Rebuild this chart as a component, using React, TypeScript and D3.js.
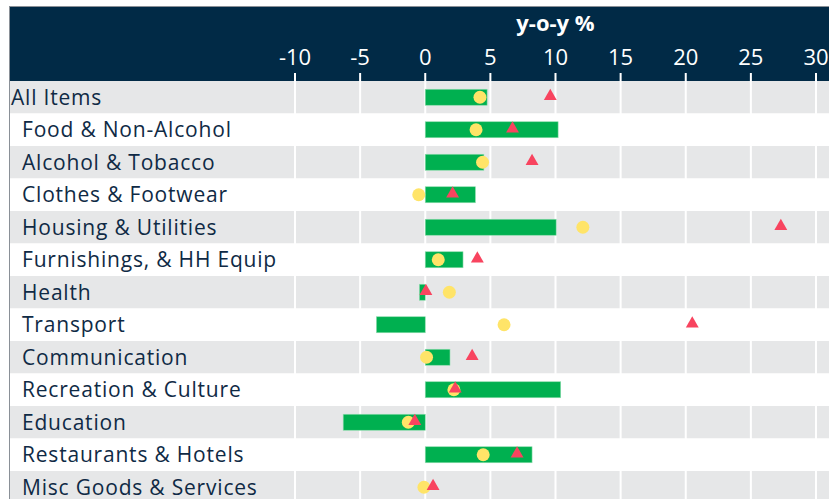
import * as d3 from "d3";
import { useEffect, useRef } from "react";

const categories = [
  "All Items",
  "Food & Non-Alcohol",
  "Alcohol & Tobacco",
  "Clothes & Footwear",
  "Housing & Utilities",
  "Furnishings, & HH Equip",
  "Health",
  "Transport",
  "Communication",
  "Recreation & Culture",
  "Education",
  "Restaurants & Hotels",
  "Misc Goods & Services",
];

// green bars, yellow dots, red triangles (y-o-y %)
const barValues = [4.75, 10.2, 4.5, 3.85, 10.05, 2.9, -0.45, -3.75, 1.9, 10.4, -6.3, 8.2, 0];
const dotValues = [4.2, 3.9, 4.4, -0.5, 12.1, 1.0, 1.85, 6.05, 0.1, 2.2, -1.3, 4.45, -0.1];
const triValues = [9.6, 6.7, 8.2, 2.1, 27.3, 4.0, 0.05, 20.5, 3.6, 2.3, -0.8, 7.05, 0.6];

const tickValues = [-10, -5, 0, 5, 10, 15, 20, 25, 30];
const axisTitle = "y-o-y %";

export default function App() {
  const ref = useRef<SVGSVGElement>(null);

  useEffect(() => {
    const width = 829, height = 499;
    const navy = "#012a46";
    const font = "'Open Sans', sans-serif";
    const svg = d3.select(ref.current);
    svg.selectAll("*").remove();
    svg.attr("width", width).attr("height", height);

    const x = d3.scaleLinear().domain([-10, 30]).range([295, 816]);
    const y = d3.scaleBand().domain(categories).range([81, 81 + 13 * 32.5]);

    svg.append("rect").attr("width", width).attr("height", height).attr("fill", "white");

    // header band
    svg.append("rect")
      .attr("x", 9).attr("y", 7)
      .attr("width", width - 9).attr("height", 74)
      .attr("fill", navy);
    svg.append("line")
      .attr("x1", 9).attr("x2", width).attr("y1", 6.5).attr("y2", 6.5)
      .attr("stroke", "#8a9097").attr("stroke-width", 1);

    // alternating row backgrounds
    svg.append("g").selectAll("rect")
      .data(categories)
      .join("rect")
      .attr("x", 10)
      .attr("y", d => y(d)!)
      .attr("width", width - 10)
      .attr("height", y.bandwidth())
      .attr("fill", (d, i) => (i % 2 === 0 ? "#e6e7e8" : "#ffffff"));

    // left border
    svg.append("line")
      .attr("x1", 9.5).attr("x2", 9.5).attr("y1", 6).attr("y2", height)
      .attr("stroke", "#8a9097").attr("stroke-width", 1);

    // grid lines + tick marks
    svg.append("g").selectAll("line")
      .data(tickValues)
      .join("line")
      .attr("x1", d => x(d)).attr("x2", d => x(d))
      .attr("y1", 73).attr("y2", height)
      .attr("stroke", "white").attr("stroke-width", 2);

    // tick labels
    svg.append("g").selectAll("text")
      .data(tickValues)
      .join("text")
      .attr("x", d => x(d))
      .attr("y", 65)
      .attr("text-anchor", "middle")
      .attr("fill", "white")
      .attr("font-family", font)
      .attr("font-size", "22px")
      .text(d => d);

    svg.append("text")
      .attr("x", x(10))
      .attr("y", 31)
      .attr("text-anchor", "middle")
      .attr("fill", "white")
      .attr("font-family", font)
      .attr("font-weight", "bold")
      .attr("font-size", "22px")
      .text(axisTitle);

    // row labels
    svg.append("g").selectAll("text")
      .data(categories)
      .join("text")
      .attr("x", (d, i) => (i === 0 ? 11 : 22))
      .attr("y", d => y(d)! + y.bandwidth() / 2 + 7.5)
      .attr("fill", "#0f2a45")
      .attr("font-family", font)
      .attr("font-size", "21px")
      .attr("letter-spacing", "0.8px")
      .text(d => d);

    const rows = categories.map((c, i) => ({ c, bar: barValues[i], dot: dotValues[i], tri: triValues[i] }));
    const cy = (d: any) => y(d.c)! + y.bandwidth() / 2;

    // bars
    svg.append("g").selectAll("rect")
      .data(rows.filter(d => d.bar !== 0))
      .join("rect")
      .attr("x", d => x(Math.min(0, d.bar)))
      .attr("y", d => cy(d) - 8)
      .attr("width", d => Math.abs(x(d.bar) - x(0)))
      .attr("height", 16)
      .attr("fill", "#00b050")
      .attr("stroke", "#8fdcae")
      .attr("stroke-width", 0.6);

    // dots
    svg.append("g").selectAll("circle")
      .data(rows)
      .join("circle")
      .attr("cx", d => x(d.dot))
      .attr("cy", d => cy(d))
      .attr("r", 6.5)
      .attr("fill", "#ffe468");

    // triangles
    const tri = d3.symbol().type(d3.symbolTriangle).size(72);
    svg.append("g").selectAll("path")
      .data(rows)
      .join("path")
      .attr("transform", d => `translate(${x(d.tri)},${cy(d) - 1})`)
      .attr("d", tri())
      .attr("fill", "#f8445f");
  }, []);

  return (
    <svg ref={ref} style={{ position: "absolute", left: 0, top: 0 }}></svg>
  );
}
